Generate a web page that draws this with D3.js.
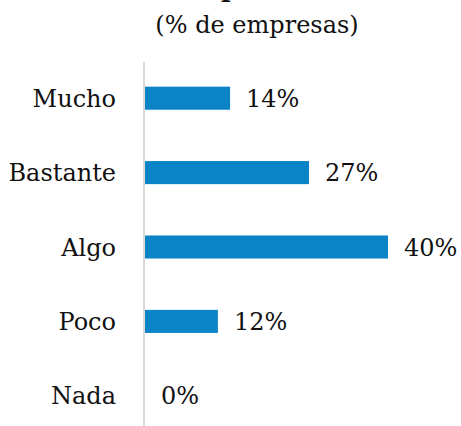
<!DOCTYPE html>
<html>
<head>
<meta charset="utf-8">
<script src="https://cdn.jsdelivr.net/npm/d3@7"></script>
<style>
  body { margin: 0; background: #fff; }
  text { font-family: "DejaVu Serif", serif; fill: #111; }
</style>
</head>
<body>
<script>
// chart data
var categories = ["Mucho", "Bastante", "Algo", "Poco", "Nada"];
var values = [14, 27, 40, 12, 0];
var valueLabels = ["14%", "27%", "40%", "12%", "0%"];
var subtitle = "(% de empresas)";

var svgWidth = 461;
var svgHeight = 426;
var axisX = 145;

var svg = d3.select("body")
  .append("svg")
    .attr("width", svgWidth)
    .attr("height", svgHeight);

// title sits above the visible area, only a descender peeks through
svg.append("text")
  .attr("x", 230)
  .attr("y", -3)
  .attr("text-anchor", "middle")
  .style("font-weight", "bold")
  .style("font-size", "26px")
  .text("p");

svg.append("text")
  .attr("x", 257)
  .attr("y", 33)
  .attr("text-anchor", "middle")
  .style("font-size", "24px")
  .text(subtitle);

var x = d3.scaleLinear()
  .domain([0, 40])
  .range([axisX, axisX + 243]);

var y = d3.scaleBand()
  .domain(categories)
  .range([61, 433])
  .paddingInner(0.69)
  .paddingOuter(0.345);

// bars
svg.append("g")
  .selectAll("rect")
  .data(values)
  .enter()
  .append("rect")
    .attr("x", x(0))
    .attr("y", function(d, i) { return y(categories[i]); })
    .attr("width", function(d) { return x(d) - x(0); })
    .attr("height", y.bandwidth())
    .attr("fill", "#0A84C6");

// axis line
svg.append("line")
  .attr("x1", axisX - 1)
  .attr("x2", axisX - 1)
  .attr("y1", 62)
  .attr("y2", svgHeight)
  .attr("stroke", "#d9d9d9")
  .attr("stroke-width", 2);

// category labels
svg.append("g")
  .selectAll("text")
  .data(categories)
  .enter()
  .append("text")
    .attr("x", 116)
    .attr("y", function(d) { return y(d) + y.bandwidth() / 2; })
    .attr("dy", "0.36em")
    .attr("text-anchor", "end")
    .style("font-size", "24px")
    .text(function(d) { return d; });

// value labels
svg.append("g")
  .selectAll("text")
  .data(values)
  .enter()
  .append("text")
    .attr("x", function(d) { return x(d) + 16; })
    .attr("y", function(d, i) { return y(categories[i]) + y.bandwidth() / 2; })
    .attr("dy", "0.36em")
    .style("font-size", "24px")
    .text(function(d, i) { return valueLabels[i]; });
</script>
</body>
</html>
